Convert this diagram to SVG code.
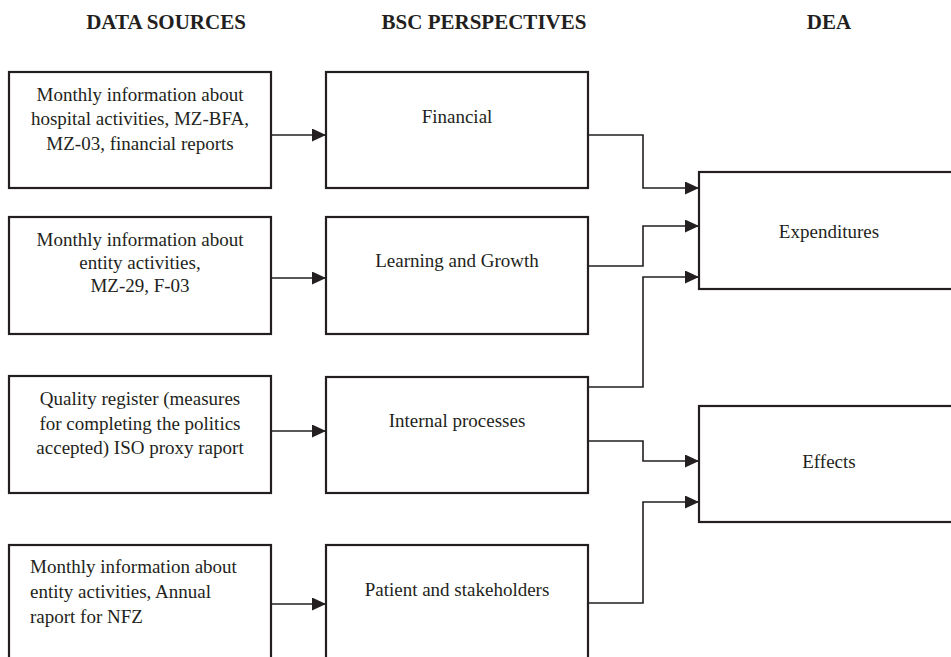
<svg xmlns="http://www.w3.org/2000/svg" width="951" height="657" viewBox="0 0 951 657">
<defs>
<style>
.box{fill:#fff;stroke:#231f20;stroke-width:2.2}
.t{font-family:"Liberation Serif","Times New Roman",serif;font-size:19px;fill:#231f20}
.c{text-anchor:middle}
.h{font-family:"Liberation Serif","Times New Roman",serif;font-size:21px;font-weight:bold;fill:#231f20;text-anchor:middle}
.con{fill:none;stroke:#231f20;stroke-width:1.6}
</style>
<marker id="ah" markerUnits="userSpaceOnUse" markerWidth="14" markerHeight="13" refX="14" refY="6.5" orient="auto">
<path d="M0,0 L14,6.5 L0,13 z" fill="#231f20"/>
</marker>
</defs>
<rect width="951" height="657" fill="#fff"/>
<g id="headers">
<text class="h" x="166" y="29">DATA SOURCES</text>
<text class="h" x="484" y="29">BSC PERSPECTIVES</text>
<text class="h" x="829" y="29">DEA</text>
</g>
<g id="connectors">
<line class="con" x1="271" y1="135" x2="326" y2="135" marker-end="url(#ah)"/>
<line class="con" x1="271" y1="278" x2="326" y2="278" marker-end="url(#ah)"/>
<line class="con" x1="271" y1="431" x2="326" y2="431" marker-end="url(#ah)"/>
<line class="con" x1="271" y1="604" x2="326" y2="604" marker-end="url(#ah)"/>
<polyline class="con" points="588,135 643,135 643,188 699,188" marker-end="url(#ah)"/>
<polyline class="con" points="588,266 643,266 643,226 699,226" marker-end="url(#ah)"/>
<polyline class="con" points="588,387 643,387 643,277 699,277" marker-end="url(#ah)"/>
<polyline class="con" points="588,441 643,441 643,461 699,461" marker-end="url(#ah)"/>
<polyline class="con" points="588,603 643,603 643,502 699,502" marker-end="url(#ah)"/>
</g>
<g id="src1">
<rect class="box" x="9" y="72" width="262" height="116"/>
<text class="t c" x="140" y="100.5">Monthly information about</text>
<text class="t c" x="140" y="125">hospital activities, MZ-BFA,</text>
<text class="t c" x="140" y="149.5">MZ-03, financial reports</text>
</g>
<g id="src2">
<rect class="box" x="9" y="217" width="262" height="117"/>
<text class="t c" x="140" y="245.5">Monthly information about</text>
<text class="t c" x="140" y="268.5">entity activities,</text>
<text class="t c" x="140" y="291.5">MZ-29, F-03</text>
</g>
<g id="src3">
<rect class="box" x="9" y="376" width="262" height="117"/>
<text class="t c" x="140" y="405">Quality register (measures</text>
<text class="t c" x="140" y="430">for completing the politics</text>
<text class="t c" x="140" y="454">accepted) ISO proxy raport</text>
</g>
<g id="src4">
<rect class="box" x="9" y="545" width="262" height="130"/>
<text class="t" x="30" y="573">Monthly information about</text>
<text class="t" x="30" y="598">entity activities, Annual</text>
<text class="t" x="30" y="623">raport for NFZ</text>
</g>
<g id="financial">
<rect class="box" x="326" y="72" width="262" height="116"/>
<text class="t c" x="457" y="123">Financial</text>
</g>
<g id="learning">
<rect class="box" x="326" y="217" width="262" height="117"/>
<text class="t c" x="457" y="267">Learning and Growth</text>
</g>
<g id="internal">
<rect class="box" x="326" y="377" width="262" height="116"/>
<text class="t c" x="457" y="427">Internal processes</text>
</g>
<g id="patient">
<rect class="box" x="326" y="545" width="262" height="130"/>
<text class="t c" x="457" y="596">Patient and stakeholders</text>
</g>
<g id="expenditures">
<rect class="box" x="699" y="172" width="270" height="117"/>
<text class="t c" x="829" y="238">Expenditures</text>
</g>
<g id="effects">
<rect class="box" x="699" y="406" width="270" height="116"/>
<text class="t c" x="829" y="468">Effects</text>
</g>
</svg>
